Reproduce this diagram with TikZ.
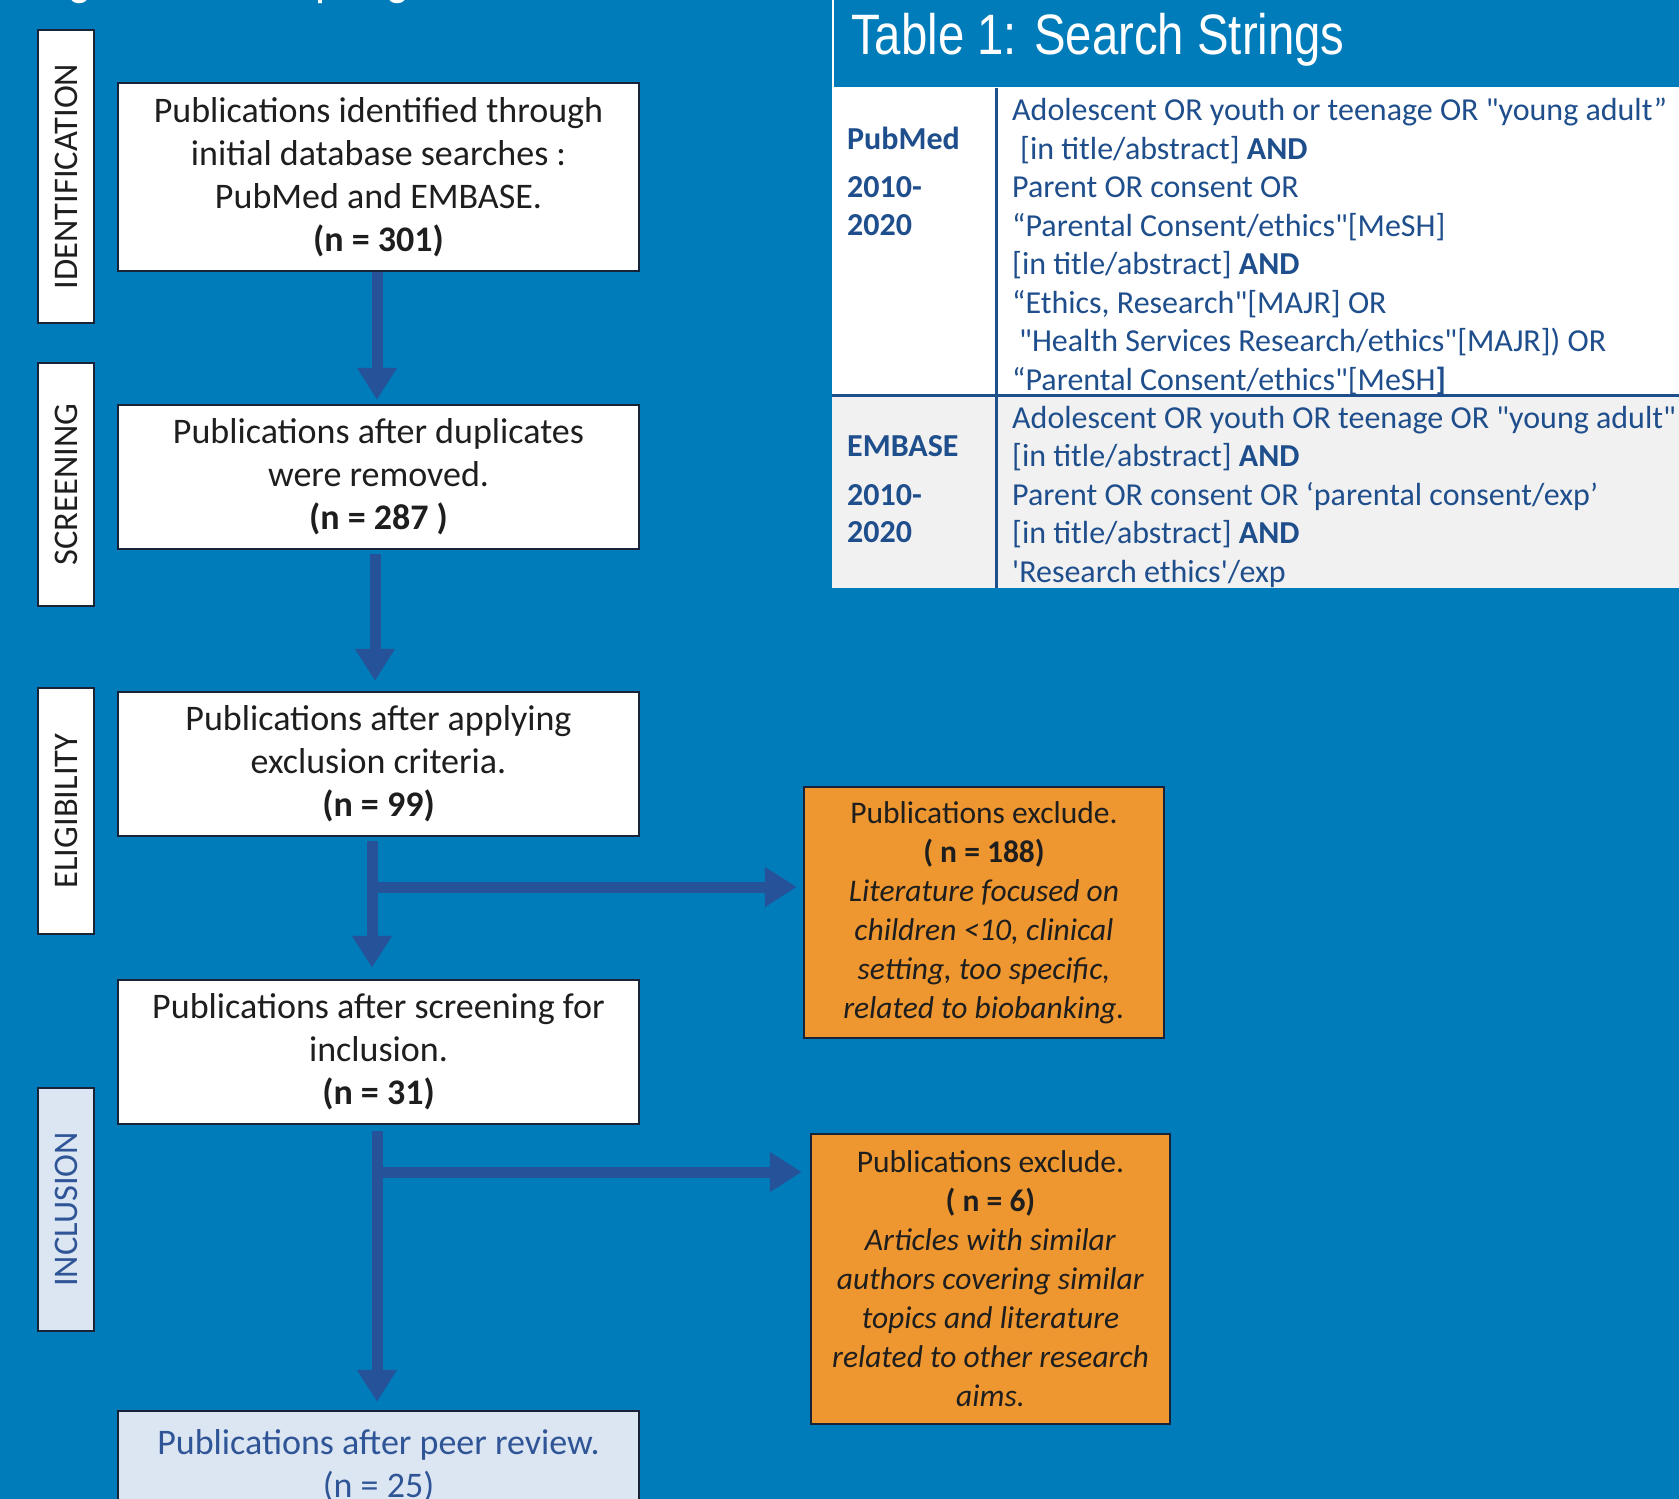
\documentclass[tikz,border=0pt]{standalone}
\usepackage{fontspec}
\setmainfont{Carlito}[Ligatures=TeXOff]
\newfontfamily\headfont{Liberation Sans}[FakeStretch=0.83]
\usepackage{tikz}
\usetikzlibrary{positioning,calc,arrows.meta}

\definecolor{bgblue}{RGB}{0,124,186}
\definecolor{arrowblue}{RGB}{37,82,153}
\definecolor{boxline}{RGB}{25,35,55}
\definecolor{excorange}{RGB}{238,150,47}
\definecolor{lightblue}{RGB}{220,230,242}
\definecolor{incltext}{RGB}{47,85,151}
\definecolor{tabblue}{RGB}{31,78,140}
\definecolor{tabgray}{RGB}{241,241,241}
\definecolor{inkdark}{RGB}{30,30,30}

\tikzset{
  stagebox/.style={draw=boxline, line width=2.5pt, fill=white, rotate=90, minimum height=56pt, inner sep=0pt, text=inkdark, font=\fontsize{34.5}{40}\selectfont},
  flowbox/.style={draw=boxline, line width=2.5pt, fill=white, minimum width=521pt, align=center, inner sep=0pt, text=inkdark, font=\fontsize{36}{43}\selectfont},
  excbox/.style={draw=boxline, line width=2.5pt, fill=excorange, align=center, inner sep=0pt, text=inkdark, font=\fontsize{31.5}{39}\selectfont},
  flowarrow/.style={draw=arrowblue, line width=11pt, -{Triangle[width=38pt,length=32pt]}},
  tabtext/.style={anchor=base west, inner sep=0pt, text=tabblue, font=\fontsize{32}{38.4}\selectfont},
  tabhead/.style={tabtext, font=\bfseries\fontsize{32}{38.4}\selectfont}
}

\begin{document}
\begin{tikzpicture}[x=1pt, y=-1pt]
    \useasboundingbox (0,0) rectangle (1679,1499);
    \clip (0,0) rectangle (1679,1499);
    \fill[bgblue] (0,0) rectangle (1679,1499);

    % title cut by the top edge
    \node[anchor=base west, inner sep=0pt, text=white, font=\headfont\fontsize{54}{60}\selectfont] (figtitle) at (30,-7) {Figure 1: Sampling};

    % table of search strings
    \fill[white] (832,88) rectangle (1679,395);
    \fill[tabgray] (832,395) rectangle (1679,588);
    \draw[white, line width=2.5pt] (833,0) -- (833,88) -- (1679,88);
    \draw[tabblue, line width=3pt] (996,88) -- (996,588);
    \draw[tabblue, line width=3pt] (832,395) -- (1679,395);
    \node[anchor=base west, inner sep=0pt, text=white, font=\headfont\fontsize{57}{64}\selectfont] (tabtitle) at (851,54.5) {Table 1: Search Strings};

    \node[tabhead] (pmname) at (847,149) {PubMed};
    \node[tabhead] (pmfrom) at (847,197) {2010-};
    \node[tabhead] (pmto) at (847,235) {2020};
    \foreach \qline [count=\i] in {
        {Adolescent OR youth or teenage OR "young adult”},
        {\hspace*{8pt}[in title/abstract] \textbf{AND}},
        {Parent OR consent OR},
        {“Parental Consent/ethics"[MeSH]},
        {[in title/abstract] \textbf{AND}},
        {“Ethics, Research"[MAJR] OR},
        {\hspace*{7pt}"Health Services Research/ethics"[MAJR]) OR},
        {“Parental Consent/ethics"[MeSH\textbf{]}}}
        \node[tabtext] (pm\i) at (1012,{120.5+38.5*(\i-1)}) {\qline};

    \node[tabhead] (emname) at (847,456) {EMBASE};
    \node[tabhead] (emfrom) at (847,505) {2010-};
    \node[tabhead] (emto) at (847,542) {2020};
    \foreach \qline [count=\i] in {
        {Adolescent OR youth OR teenage OR "young adult"},
        {[in title/abstract] \textbf{AND}},
        {Parent OR consent OR ‘parental consent/exp’},
        {[in title/abstract] \textbf{AND}},
        {'Research ethics'/exp}}
        \node[tabtext] (em\i) at (1012,{428+38.5*(\i-1)}) {\qline};

    % stage labels
    \node[stagebox, minimum width=293pt] (sid) at (66,176.5) {IDENTIFICATION};
    \node[stagebox, minimum width=243pt] (sscr) at (66,484.5) {SCREENING};
    \node[stagebox, minimum width=246pt] (selig) at (66,811) {ELIGIBILITY};
    \node[stagebox, minimum width=243pt, fill=lightblue, text=incltext] (sincl) at (66,1209.5) {INCLUSION};

    % flow boxes
    \node[flowbox, minimum height=188pt] (b1) at (378.5,177) {Publications identified through\\initial database searches :\\PubMed and EMBASE.\\\textbf{(n = 301)}};
    \node[flowbox, minimum height=144pt] (b2) at (378.5,477) {Publications after duplicates\\were removed.\\\textbf{(n = 287 )}};
    \node[flowbox, minimum height=144pt] (b3) at (378.5,764) {Publications after applying\\exclusion criteria.\\\textbf{(n = 99)}};
    \node[flowbox, minimum height=144pt] (b4) at (378.5,1052) {Publications after screening for\\inclusion.\\\textbf{(n = 31)}};
    \node[flowbox, minimum height=109pt, fill=lightblue, text=incltext] (b5) at (378.5,1465.5) {Publications after peer review.\\(n = 25)};

    \node[excbox, minimum width=360pt, minimum height=251pt] (o1) at (984,912.5) {Publications exclude.\\\textbf{( n = 188)}\\\textit{Literature focused on}\\\textit{children <10, clinical}\\\textit{setting, too specific,}\\\textit{related to biobanking.}};
    \node[excbox, minimum width=359pt, minimum height=290pt] (o2) at (990.5,1279) {Publications exclude.\\\textbf{( n = 6)}\\\textit{Articles with similar}\\\textit{authors covering similar}\\\textit{topics and literature}\\\textit{related to other research}\\\textit{aims.}};

    % arrows
    \draw[flowarrow, shorten >=4pt] ([xshift=-1.5pt]b1.south) -- ([xshift=-1.5pt]b2.north);
    \draw[flowarrow, shorten <=4pt, shorten >=10pt] ([xshift=-3.5pt]b2.south) -- ([xshift=-3.5pt]b3.north);
    \draw[flowarrow, shorten <=4pt, shorten >=11pt] ([xshift=-6.5pt]b3.south) -- ([xshift=-6.5pt]b4.north);
    \coordinate (j1) at (372,887);
    \draw[flowarrow, shorten >=6pt] (j1) -- (j1 -| o1.west);
    \draw[flowarrow, shorten <=6pt, shorten >=8pt] ([xshift=-1.5pt]b4.south) -- ([xshift=-1.5pt]b5.north);
    \coordinate (j2) at (377,1172);
    \draw[flowarrow, shorten >=8pt] (j2) -- (j2 -| o2.west);
\end{tikzpicture}
\end{document}
